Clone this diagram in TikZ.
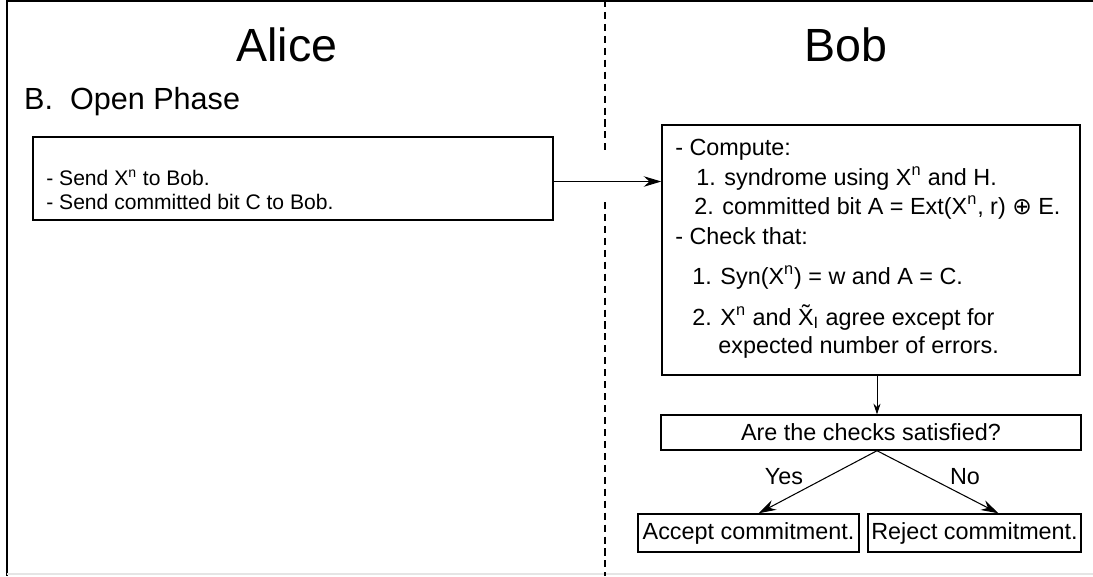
\documentclass[tikz,border=0pt]{standalone}
\usepackage{fontspec}
\setmainfont{Liberation Sans}
\newfontfamily\symfont{DejaVu Sans}
\usepackage{tikz}
\usetikzlibrary{arrows.meta,positioning,fit,calc}

\tikzset{
  box/.style={draw, line width=0.8pt, inner sep=0pt},
  small/.style={font=\fontsize{13.3}{16}\selectfont},
  line/.style={small, anchor=base west, inner sep=0pt},
  arr/.style={-{Stealth[length=10pt,width=6pt]}, line width=0.6pt},
  tinyarr/.style={-{Stealth[length=6pt,width=4pt]}, line width=0.5pt},
}
\newcommand{\Xn}{X\textsuperscript{n}}

\begin{document}
\begin{tikzpicture}[x=0.02cm,y=-0.02cm]
  \useasboundingbox (0,0) rectangle (1093,576);
  % frame and the line between the two parties
  \draw[line width=1.2pt] (1093,1) -- (7,1) -- (7,576);
  \draw[gray!20, line width=1pt] (7,574) -- (1093,574);
  \draw[dash pattern=on 4pt off 2.8pt, line width=0.6pt] (605,0) -- (605,155);
  \draw[dash pattern=on 4pt off 2.8pt, line width=0.6pt] (605,202) -- (605,576);

  \node[font=\fontsize{26.5}{30}\selectfont] (alice) at (287,45) {Alice};
  \node[font=\fontsize{26.5}{30}\selectfont] (bob) at (846,45) {Bob};
  \node[font=\fontsize{17.4}{20}\selectfont, anchor=west] (phase) at (18,102) {B.\ \ Open Phase};

  % Alice sends
  \node[box, fit={(33,137) (553,220)}] (send) {};
  \node[line, font=\fontsize{12}{14}\selectfont] (s1) at (46,185) {- Send \Xn\ to Bob.};
  \node[line, font=\fontsize{12}{14}\selectfont] (s2) at (46,209) {- Send committed bit C to Bob.};

  % Bob computes and checks
  \node[box, fit={(662,125) (1080,375)}] (verify) {};
  \node[line] (v1) at (675,155) {- Compute:};
  \node[line] (v2) at (696,185) {1. syndrome using \Xn\ and H.};
  \node[line] (v3) at (694,214) {2. committed bit A = Ext(\Xn, r) {\symfont ⊕} E.};
  \node[line] (v4) at (675,244) {- Check that:};
  \node[line] (v5) at (692,284) {1. Syn(\Xn) = w and A = C.};
  \node[line] (v6) at (692,325) {2. \Xn\ and \~{X}\textsubscript{I} agree except for};
  \node[line] (v7) at (718,353) {expected number of errors.};

  \node[box, fit={(661,415) (1081,450)}] (check) {};
  \node[small] (q) at (check.center) {Are the checks satisfied?};
  \node[box, fit={(638,514) (859,552)}] (accept) {};
  \node[small] (acc) at (accept.center) {Accept commitment.};
  \node[box, fit={(868,514) (1081,552)}] (reject) {};
  \node[small] (rej) at (reject.center) {Reject commitment.};

  \draw[arr] ($(send.east)+(0,3)$) -- ($(send.east -| verify.west)+(0,3)$);
  \draw[tinyarr] ($(verify.south)+(6,0)$) -- ($(check.north)+(6,0)$);
  \draw[arr] ($(check.south)+(6,0)$) -- ($(accept.north)+(10,0)$);
  \draw[arr] ($(check.south)+(6,0)$) -- ($(reject.north)+(24,0)$);
  \node[small] (yes) at (784,477) {Yes};
  \node[small] (no) at (965,477) {No};
\end{tikzpicture}
\end{document}
